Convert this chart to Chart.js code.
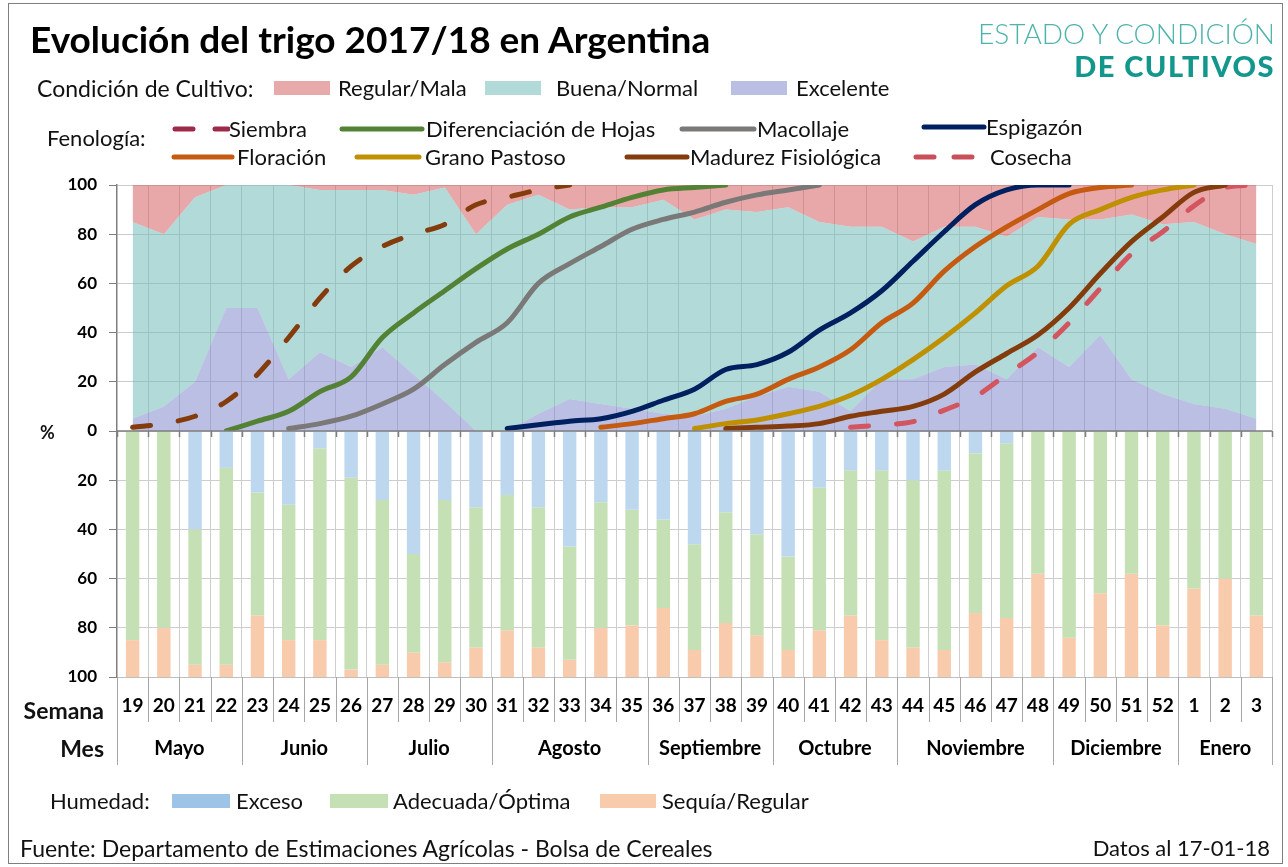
<!DOCTYPE html>
<html>
<head>
<meta charset="utf-8">
<script src="https://cdn.jsdelivr.net/npm/chart.js@4"></script>
<style>
  body { margin: 0; background: #fff; font-family: Lato, sans-serif; color: #111; }
  #wrap { position: relative; width: 1288px; height: 867px; overflow: hidden; }
  #frame { position: absolute; left: 8px; top: 3px; width: 1275px; height: 861px; border: 1px solid #7f7f7f; box-sizing: border-box; }
  canvas { position: absolute; left: 0; top: 0; }
  .t { position: absolute; white-space: nowrap; line-height: 1; transform: translateY(-50%); }
  .r { text-align: right; }
  .b { font-weight: bold; }
  .lg { font-size: 22px; }
  .box { position: absolute; height: 14px; transform: translateY(-50%); }
  .sw { position: absolute; transform: translateY(-50%); }
</style>
</head>
<body>
<div id="wrap">
  <canvas id="chart" width="1288" height="867"></canvas>
  <div id="frame"></div>

  <div class="t b" style="left:30px;top:38px;font-size:37px;color:#000">Evolución del trigo 2017/18 en Argentina</div>
  <div class="t r" style="right:13px;top:33px;font-size:28px;font-weight:300;color:#4db3ac">ESTADO Y CONDICIÓN</div>
  <div class="t r" style="right:13px;top:65px;font-size:29px;font-weight:900;color:#13978d;letter-spacing:1.5px">DE CULTIVOS</div>

  <!-- Condición de cultivo -->
  <div class="t" style="left:37px;top:88px;font-size:23px">Condición de Cultivo:</div>
  <div class="box" style="left:274px;top:88px;width:56px;background:#e8a9ab"></div>
  <div class="t lg" style="left:338px;top:88px">Regular/Mala</div>
  <div class="box" style="left:485px;top:88px;width:56px;background:#b2dad8"></div>
  <div class="t lg" style="left:556px;top:88px">Buena/Normal</div>
  <div class="box" style="left:731px;top:88px;width:56px;background:#babfe3"></div>
  <div class="t lg" style="left:796px;top:88px">Excelente</div>

  <!-- Fenología -->
  <div class="t lg" style="left:47px;top:138px">Fenología:</div>
  <svg class="sw" style="left:170px;top:129px" width="60" height="10"><line x1="5" y1="5" x2="58" y2="5" stroke="#9e2a4b" stroke-width="5" stroke-linecap="round" stroke-dasharray="18 22"/></svg>
  <div class="t lg" style="left:229px;top:129px">Siembra</div>
  <svg class="sw" style="left:338px;top:129px" width="88" height="10"><line x1="4" y1="5" x2="84" y2="5" stroke="#548235" stroke-width="5" stroke-linecap="round"/></svg>
  <div class="t lg" style="left:426px;top:129px">Diferenciación de Hojas</div>
  <svg class="sw" style="left:678px;top:129px" width="80" height="10"><line x1="4" y1="5" x2="76" y2="5" stroke="#7b7878" stroke-width="5" stroke-linecap="round"/></svg>
  <div class="t lg" style="left:757px;top:129px">Macollaje</div>
  <svg class="sw" style="left:920px;top:127px" width="68" height="10"><line x1="4" y1="5" x2="64" y2="5" stroke="#002060" stroke-width="5" stroke-linecap="round"/></svg>
  <div class="t lg" style="left:986px;top:127px">Espigazón</div>

  <svg class="sw" style="left:170px;top:157px" width="66" height="10"><line x1="4" y1="5" x2="62" y2="5" stroke="#c55a11" stroke-width="5" stroke-linecap="round"/></svg>
  <div class="t lg" style="left:237px;top:157px">Floración</div>
  <svg class="sw" style="left:353px;top:157px" width="70" height="10"><line x1="4" y1="5" x2="66" y2="5" stroke="#bf9000" stroke-width="5" stroke-linecap="round"/></svg>
  <div class="t lg" style="left:425px;top:157px">Grano Pastoso</div>
  <svg class="sw" style="left:623px;top:157px" width="68" height="10"><line x1="4" y1="5" x2="64" y2="5" stroke="#843c0c" stroke-width="5" stroke-linecap="round"/></svg>
  <div class="t lg" style="left:690px;top:157px">Madurez Fisiológica</div>
  <svg class="sw" style="left:911px;top:157px" width="68" height="10"><line x1="5" y1="5" x2="64" y2="5" stroke="#c9505a" stroke-width="5" stroke-linecap="round" stroke-dasharray="18 20"/></svg>
  <div class="t lg" style="left:990px;top:157px">Cosecha</div>

  <div class="t b" style="left:40px;top:432px;font-size:18px">%</div>
  <div class="t b r" style="right:1184px;top:710px;font-size:23px">Semana</div>
  <div class="t b r" style="right:1184px;top:748px;font-size:23px">Mes</div>

  <!-- Humedad -->
  <div class="t lg" style="left:50px;top:801px">Humedad:</div>
  <div class="box" style="left:172px;top:801px;width:58px;background:#9dc3e6"></div>
  <div class="t lg" style="left:236px;top:801px">Exceso</div>
  <div class="box" style="left:330px;top:801px;width:58px;background:#c5e0b4"></div>
  <div class="t lg" style="left:393px;top:801px">Adecuada/Óptima</div>
  <div class="box" style="left:600px;top:801px;width:56px;background:#f8cbad"></div>
  <div class="t lg" style="left:662px;top:801px">Sequía/Regular</div>

  <div class="t" style="left:20px;top:848px;font-size:23px">Fuente: Departamento de Estimaciones Agrícolas - Bolsa de Cereales</div>
  <div class="t lg r" style="right:18px;top:848px">Datos al 17-01-18</div>
</div>

<script>
const weeks = ['19', '20', '21', '22', '23', '24', '25', '26', '27', '28', '29', '30', '31', '32', '33', '34', '35', '36', '37',
  '38', '39', '40', '41', '42', '43', '44', '45', '46', '47', '48', '49', '50', '51', '52', '1', '2', '3'];
const months = ['Mayo', 'Junio', 'Julio', 'Agosto', 'Septiembre', 'Octubre', 'Noviembre', 'Diciembre', 'Enero'];
const monthWeeks = [4, 4, 4, 5, 4, 4, 5, 4, 3];

// condición de cultivo (%)
const excelente = [5, 10, 20, 50, 50, 21, 32, 26, 34, 23, 12, 0, 0, 7, 13, 11, 9, 7, 6, 9, 14, 18, 16, 8, 21,
  21, 26, 27, 21, 34, 26, 39, 21, 15, 11, 9, 5];
const buena = [80, 70, 75, 50, 50, 79, 66, 72, 64, 73, 87, 80, 92, 89, 77, 80, 82, 87, 80, 81, 75, 73, 69, 75, 62,
  56, 57, 56, 58, 53, 60, 47, 67, 69, 74, 71, 71];
const regular = [15, 20, 5, 0, 0, 0, 2, 2, 2, 4, 1, 20, 8, 4, 10, 9, 9, 6, 14, 10, 11, 9, 15, 17, 17,
  23, 17, 17, 21, 13, 14, 14, 12, 16, 15, 20, 24];

// fenología (% acumulado)
const _ = null;
const siembra = [1.5, 3, 6, 12, 23, 38, 54, 67, 75, 80, 84, 92, 95, 98, 100, _, _, _, _, _, _, _, _, _, _,
  _, _, _, _, _, _, _, _, _, _, _, _];
const hojas = [_, _, _, 0, 4, 8, 16, 22, 38, 48, 57, 66, 74, 80, 87, 91, 95, 98, 99, 100, _, _, _, _, _,
  _, _, _, _, _, _, _, _, _, _, _, _];
const macollaje = [_, _, _, _, _, 1, 3, 6, 11, 17, 27, 36, 44, 60, 68, 75, 82, 86, 89, 93, 96, 98, 100, _, _,
  _, _, _, _, _, _, _, _, _, _, _, _];
const espigazon = [_, _, _, _, _, _, _, _, _, _, _, _, 1, 2.5, 4, 5, 8, 12.5, 17, 25, 27, 32, 41, 48, 57,
  69, 81, 92, 98, 100, 100, _, _, _, _, _, _];
const floracion = [_, _, _, _, _, _, _, _, _, _, _, _, _, _, _, 1.5, 3, 5, 7, 12, 15, 21, 26, 33, 44,
  52, 65, 75, 83, 90, 96.5, 99, 100, _, _, _, _];
const grano = [_, _, _, _, _, _, _, _, _, _, _, _, _, _, _, _, _, _, 1, 3, 4.5, 7, 10, 14.5, 21,
  29, 38, 48, 59, 67, 84, 90, 95, 98, 100, _, _];
const madurez = [_, _, _, _, _, _, _, _, _, _, _, _, _, _, _, _, _, _, _, 1, 1.5, 2, 3, 6, 8,
  10, 15, 24, 31.5, 39, 50, 64, 77, 87, 97, 100, _];
const cosecha = [_, _, _, _, _, _, _, _, _, _, _, _, _, _, _, _, _, _, _, _, _, _, _, 1.5, 2.5,
  3.8, 8.5, 14, 23, 32, 44, 58, 72, 81, 91.5, 99, 100];

// humedad (%)
const exceso = [0, 0, 40, 15, 25, 30, 7, 19, 28, 50, 28, 31, 26, 31, 47, 29, 32, 36, 46, 33, 42, 51, 23, 16, 16,
  20, 16, 9, 5, 0, 0, 0, 0, 0, 0, 0, 0];
const adecuada = [85, 80, 55, 80, 50, 55, 78, 78, 67, 40, 66, 57, 55, 57, 46, 51, 47, 36, 43, 45, 41, 38, 58, 59, 69,
  68, 73, 65, 71, 58, 84, 66, 58, 79, 64, 60, 75];
const sequia = [15, 20, 5, 5, 25, 15, 15, 3, 5, 10, 6, 12, 19, 12, 7, 20, 21, 28, 11, 22, 17, 11, 19, 25, 15,
  12, 11, 26, 24, 42, 16, 34, 42, 21, 36, 40, 25];

Chart.defaults.font.family = 'Lato';
Chart.defaults.color = '#000';

// centro de cada mes en unidades de semana
const monthCenters = [];
let acc = 0;
monthWeeks.forEach(n => { monthCenters.push(acc + (n - 1) / 2); acc += n; });

function area(label, data, color, fill) {
  return { type: 'line', label, data, yAxisID: 'yTop', xAxisID: 'x', stack: 'cond', order: 3,
    backgroundColor: color, borderWidth: 0, pointRadius: 0, fill, tension: 0 };
}
function fase(label, data, color, dashed) {
  return { type: 'line', label, data, yAxisID: 'yTop', xAxisID: 'x', stack: label, order: 1,
    borderColor: color, borderWidth: 5, pointRadius: 0, fill: false, borderCapStyle: 'round',
    borderDash: dashed ? [18, 28] : [], cubicInterpolationMode: 'monotone' };
}
function barra(label, data, color) {
  return { type: 'bar', label, data, yAxisID: 'yBot', xAxisID: 'x', stack: 'hum', order: 2,
    backgroundColor: color, borderWidth: 0, barPercentage: 0.43, categoryPercentage: 1 };
}

// eje 0 superior, divisiones de semanas y de meses
const tabla = {
  id: 'tabla',
  afterDraw(chart) {
    const { ctx, chartArea, scales } = chart;
    const x = scales.x, yTop = scales.yTop, mx = scales.xMes;
    const edge = i => Math.round(x.getPixelForValue(i - 0.5)) + 0.5;
    ctx.save();
    ctx.strokeStyle = '#7f7f7f';
    ctx.lineWidth = 1.5;
    ctx.beginPath();
    ctx.moveTo(chartArea.left, yTop.bottom);
    ctx.lineTo(chartArea.right, yTop.bottom);
    for (let i = 0; i <= weeks.length; i++) {
      ctx.moveTo(edge(i), yTop.bottom);
      ctx.lineTo(edge(i), yTop.bottom + 6);
    }
    ctx.stroke();

    ctx.strokeStyle = '#a6a6a6';
    ctx.lineWidth = 1;
    ctx.beginPath();
    for (let i = 0; i <= weeks.length; i++) {
      ctx.moveTo(edge(i), x.top);
      ctx.lineTo(edge(i), x.bottom);
    }
    let b = 0;
    [0].concat(monthWeeks).forEach(n => {
      b += n;
      ctx.moveTo(edge(b), mx.top);
      ctx.lineTo(edge(b), mx.bottom - 2);
    });
    ctx.stroke();
    ctx.restore();
  }
};

const yFont = { size: 17, weight: 'bold' };

new Chart(document.getElementById('chart'), {
  type: 'bar',
  data: {
    labels: weeks,
    datasets: [
      area('Excelente', excelente, 'rgba(127,136,203,0.54)', 'origin'),
      area('Buena/Normal', buena, 'rgba(112,187,183,0.54)', '-1'),
      area('Regular/Mala', regular, 'rgba(212,94,98,0.54)', '-1'),
      fase('Siembra', siembra, '#843c0c', true),
      fase('Diferenciación de Hojas', hojas, '#548235', false),
      fase('Macollaje', macollaje, '#7b7878', false),
      fase('Espigazón', espigazon, '#002060', false),
      fase('Floración', floracion, '#c55a11', false),
      fase('Grano Pastoso', grano, '#bf9000', false),
      fase('Madurez Fisiológica', madurez, '#843c0c', false),
      fase('Cosecha', cosecha, '#d2555f', true),
      barra('Exceso', exceso, '#bdd7ee'),
      barra('Adecuada/Óptima', adecuada, '#c5e0b4'),
      barra('Sequía/Regular', sequia, '#f8cbad')
    ]
  },
  options: {
    responsive: false,
    animation: false,
    devicePixelRatio: 1,
    layout: { padding: { left: 57, top: 185, right: 16, bottom: 100 } },
    plugins: { legend: { display: false }, tooltip: { enabled: false } },
    scales: {
      x: {
        type: 'category', position: 'bottom', weight: 0, offset: true,
        grid: { offset: true, color: '#cdcdcd', drawTicks: false },
        border: { color: '#bfbfbf' },
        ticks: { autoSkip: false, maxRotation: 0, padding: 17, font: { size: 19, weight: 'bold' } },
        afterFit: s => { s.height = 45; }
      },
      xMes: {
        type: 'linear', position: 'bottom', weight: 1, min: -0.5, max: 36.5, offset: false,
        grid: { display: false, drawTicks: false, offset: false },
        border: { display: false },
        afterBuildTicks: s => { s.ticks = monthCenters.map(v => ({ value: v })); },
        ticks: { autoSkip: false, maxRotation: 0, padding: 15, font: { size: 20, weight: 'bold' },
          callback: (v, i) => months[i] },
        afterFit: s => { s.height = 45; }
      },
      yTop: {
        type: 'linear', position: 'left', stack: 'v', stackWeight: 1, weight: 1,
        stacked: true, min: 0, max: 100,
        grid: { color: '#cdcdcd', tickLength: 8, tickColor: '#7f7f7f' },
        border: { color: '#7f7f7f', width: 1.5 },
        ticks: { stepSize: 20, padding: 12, font: yFont },
        afterFit: s => { s.width = 60; }
      },
      yBot: {
        type: 'linear', position: 'left', stack: 'v', stackWeight: 1, weight: 0,
        stacked: true, reverse: true, min: 0, max: 100,
        grid: { color: '#cdcdcd', tickLength: 8, tickColor: '#7f7f7f' },
        border: { color: '#7f7f7f', width: 1.5 },
        ticks: { stepSize: 20, padding: 12, font: yFont, callback: v => (v === 0 ? '' : v) },
        afterFit: s => { s.width = 60; }
      }
    }
  },
  plugins: [tabla]
});
</script>
</body>
</html>
